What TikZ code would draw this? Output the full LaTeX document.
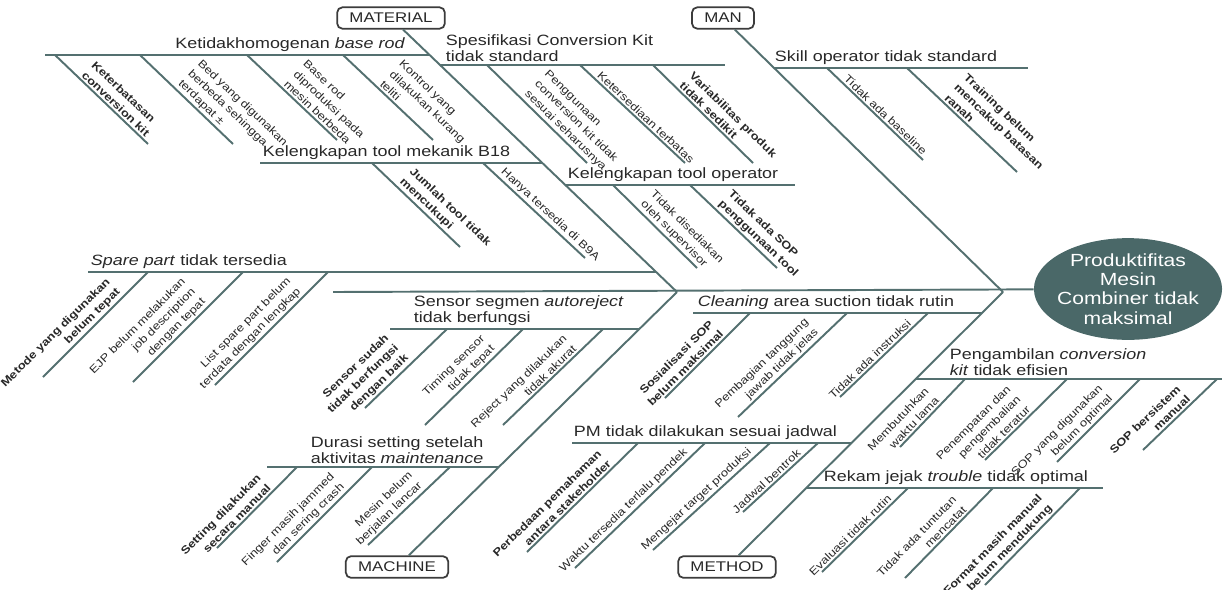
\documentclass[tikz,border=0pt]{standalone}
\usepackage{fontspec}
\setmainfont{Liberation Sans}[FakeStretch=1.2]
\usetikzlibrary{shapes.geometric}
\definecolor{bonecol}{RGB}{84,112,112}
\definecolor{txtcol}{RGB}{40,40,40}
\definecolor{headcol}{RGB}{74,104,104}
\definecolor{catcol}{RGB}{60,60,60}
\begin{document}
\begin{tikzpicture}[x=0.02cm,y=-0.02cm,
    every edge/.style={draw=bonecol,line width=1.1pt},
    cat/.style={draw=catcol,rounded corners=3pt,line width=1pt,fill=white,text=txtcol,
        font=\fontsize{8}{9}\selectfont,minimum height=0.4cm,inner xsep=7pt},
    effect/.style={ellipse,fill=headcol,text=white,align=center,inner xsep=-2.5pt,inner ysep=0.3pt,
        font=\fontsize{10}{11}\selectfont},
    cause/.style={text=txtcol,align=left,inner sep=1.5pt,font=\fontsize{8.5}{9.5}\selectfont},
    kidr/.style={text=txtcol,align=left,inner sep=1pt,sloped,anchor=south west,font=\fontsize{6.2}{8}\selectfont},
    kidl/.style={text=txtcol,align=right,inner sep=1pt,sloped,anchor=south east,font=\fontsize{6.2}{8}\selectfont},
    hv/.style={font=\fontsize{6.2}{8}\selectfont\bfseries}]
    \useasboundingbox (0,0) rectangle (1227,589);

    % categories and effect
    \node[cat] at (391,18) (mat) {MATERIAL};
    \node[cat] at (723,18) (man) {MAN};
    \node[cat] at (397,567) (mach) {MACHINE};
    \node[cat] at (727,567) (meth) {METHOD};
    \node[effect] at (1128,289) (prod) {Produktifitas\\Mesin\\Combiner tidak\\maksimal};

    \coordinate (tail) at (333,292);
    \coordinate (j1) at (677,292);
    \coordinate (j2) at (1003,292);

    \path (tail) edge (prod);
    \path (mat) edge (j1)
          (j1) edge (mach);
    \path (man) edge (j2)
          (j2) edge (meth);

    % material
    \node[cause,anchor=south east] at (408,55) (basrod) {Ketidakhomogenan \textit{base rod}};
    \path (45,55) edge (430,55);
    \path (55,55) edge node[kidr,hv,pos=.24] {Keterbatasan\\conversion kit} (148,144)
          (140,55) edge node[kidr,pos=.35] {Bed yang digunakan\\berbeda sehingga\\terdapat ±} (233,144)
          (247,55) edge node[kidr,pos=.36] {Base rod\\diproduksi pada\\mesin berbeda} (337,140)
          (343,55) edge node[kidr,pos=.36] {Kontrol yang\\dilakukan kurang\\teliti} (433,140);

    \node[cause,anchor=south west] at (443,65) (spek) {Spesifikasi Conversion Kit\\tidak standard};
    \path (440,65) edge (725,65);
    \path (487,65) edge node[kidr,pos=.32] {Penggunaan\\conversion kit tidak\\sesuai seharusnya} (587,163)
          (580,65) edge node[kidr,pos=.12] {Ketersediaan terbatas} (685,163)
          (653,65) edge node[kidr,hv,pos=.22] {Variabilitas produk\\tidak sedikit} (753,163);

    \node[cause,anchor=south west] at (260,163) (mekanik) {Kelengkapan tool mekanik B18};
    \path (260,163) edge (542,163);
    \path (372,163) edge node[kidr,hv,pos=.25] {Jumlah tool tidak\\mencukupi} (460,247)
          (483,163) edge node[kidr,pos=.12] {Hanya tersedia di B9A} (585,258);

    \node[cause,anchor=south west] at (565,185) (toolop) {Kelengkapan tool operator};
    \path (565,185) edge (795,185);
    \path (613,185) edge node[kidr,pos=.26] {Tidak disediakan\\oleh supervisor} (697,268)
          (690,185) edge node[kidr,hv,pos=.26] {Tidak ada SOP\\penggunaan tool} (777,268);

    \node[cause,anchor=south west] at (88,272) (spare) {\textit{Spare part} tidak tersedia};
    \path (88,272) edge (656,272);
    \path (148,272) edge node[kidl,hv,pos=.21] {Metode yang digunakan\\belum tepat} (43,377)
          (243,272) edge node[kidl,pos=.29] {EJP belum melakukan\\job description\\dengan tepat} (133,382)
          (328,272) edge node[kidl,pos=.19] {List spare part belum\\terdata dengan lengkap} (215,385);

    % man
    \node[cause,anchor=south west] at (772,68) (skill) {Skill operator tidak standard};
    \path (774,68) edge (1028,68);
    \path (827,68) edge node[kidr,pos=.13] {Tidak ada baseline} (923,160)
          (907,68) edge node[kidr,hv,pos=.3] {Training belum\\mencakup batasan\\ranah} (1017,172);

    % machine
    \node[cause,anchor=south west] at (411,329) (sensor) {Sensor segmen \textit{autoreject}\\tidak berfungsi};
    \path (390,329) edge (639,329);
    \path (447,329) edge node[kidl,hv,pos=.4] {Sensor sudah\\tidak berfungsi\\dengan baik} (365,408)
          (523,329) edge node[kidl,pos=.23] {Timing sensor\\tidak tepat} (425,425)
          (603,329) edge node[kidl,pos=.22] {Reject yang dilakukan\\tidak akurat} (503,425);

    \node[cause,anchor=south west] at (308,467) (durasi) {Durasi setting setelah\\aktivitas \textit{maintenance}};
    \path (267,467) edge (499,467);
    \path (297,467) edge node[kidl,hv,pos=.27] {Setting dilakukan\\secara manual} (217,548)
          (372,467) edge node[kidl,pos=.23] {Finger masih jammed\\dan sering crash} (277,562)
          (450,467) edge node[kidl,pos=.27] {Mesin belum\\berjalan lancar} (368,545);

    % method
    \node[cause,anchor=south west] at (695,313) (clean) {\textit{Cleaning} area suction tidak rutin};
    \path (693,313) edge (982,313);
    \path (750,313) edge node[kidl,hv,pos=.26] {Sosialisasi SOP\\belum maksimal} (665,398)
          (847,313) edge node[kidl,pos=.21] {Pembagian tanggung\\jawab tidak jelas} (738,417)
          (928,313) edge node[kidl,pos=.14] {Tidak ada instruksi} (840,397);

    \node[cause,anchor=south west] at (947,379) (ambil) {Pengambilan \textit{conversion}\\\textit{kit} tidak efisien};
    \path (916,379) edge (1222,379);
    \path (965,379) edge node[kidl,pos=.33] {Membutuhkan\\waktu lama} (900,447)
          (1067,379) edge node[kidl,pos=.39] {Penempatan dan\\pengembalian\\tidak teratur} (985,460)
          (1140,379) edge node[kidl,pos=.26] {SOP yang digunakan\\belum optimal} (1057,462)
          (1217,379) edge node[kidl,hv,pos=.3] {SOP bersistem\\manual} (1143,450);

    \node[cause,anchor=south west] at (571,443) (pm) {PM tidak dilakukan sesuai jadwal};
    \path (572,443) edge (851,443);
    \path (638,443) edge node[kidl,hv,pos=.2] {Perbedaan pemahaman\\antara stakeholder} (527,552)
          (705,443) edge node[kidl,pos=.09] {Waktu tersedia terlalu pendek} (575,568)
          (770,443) edge node[kidl,pos=.11] {Mengejar target produksi} (653,550)
          (818,443) edge node[kidl,pos=.17] {Jadwal bentrok} (743,512);

    \node[cause,anchor=south west] at (821,488) (rekam) {Rekam jejak \textit{trouble} tidak optimal};
    \path (806,488) edge (1103,488);
    \path (908,488) edge node[kidl,pos=.14] {Evaluasi tidak rutin} (822,572)
          (993,488) edge node[kidl,pos=.25] {Tidak ada tuntutan\\mencatat} (905,578)
          (1080,488) edge node[kidl,hv,pos=.23] {Format masih manual\\dan belum mendukung} (985,585);
\end{tikzpicture}
\end{document}
